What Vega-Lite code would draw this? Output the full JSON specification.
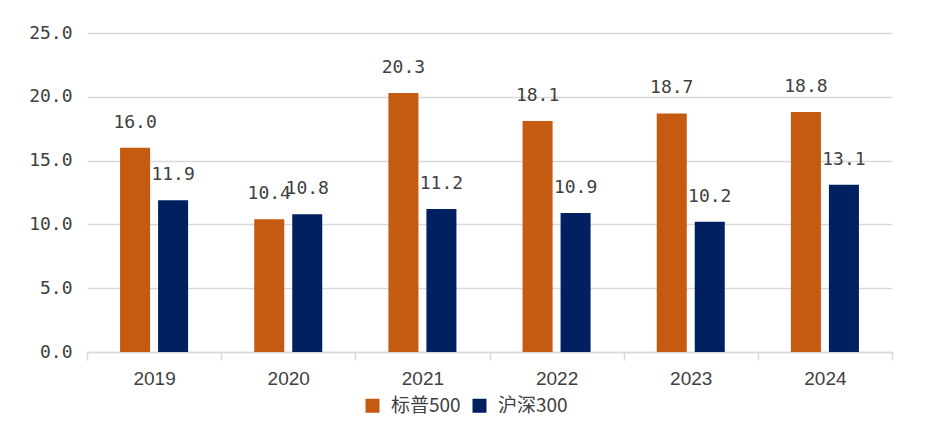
{
  "$schema": "https://vega.github.io/schema/vega-lite/v6.json",
  "autosize": "none",
  "width": 805,
  "height": 319,
  "padding": {"left": 87, "top": 33, "right": 39, "bottom": 82},
  "background": "white",
  "config": {
    "view": {"stroke": null},
    "font": "Liberation Sans"
  },
  "data": {
    "values": [
      {"year": "2019", "series": "标普500", "value": 16.0},
      {"year": "2019", "series": "沪深300", "value": 11.9},
      {"year": "2020", "series": "标普500", "value": 10.4},
      {"year": "2020", "series": "沪深300", "value": 10.8},
      {"year": "2021", "series": "标普500", "value": 20.3},
      {"year": "2021", "series": "沪深300", "value": 11.2},
      {"year": "2022", "series": "标普500", "value": 18.1},
      {"year": "2022", "series": "沪深300", "value": 10.9},
      {"year": "2023", "series": "标普500", "value": 18.7},
      {"year": "2023", "series": "沪深300", "value": 10.2},
      {"year": "2024", "series": "标普500", "value": 18.8},
      {"year": "2024", "series": "沪深300", "value": 13.1}
    ]
  },
  "encoding": {
    "x": {
      "field": "year",
      "type": "nominal",
      "scale": {"paddingInner": 0, "paddingOuter": 0},
      "axis": {
        "title": null,
        "labelAngle": 0,
        "labelFont": "Liberation Sans",
        "labelFontSize": 19,
        "labelColor": "#404040",
        "labelPadding": 9,
        "domainColor": "#D9D9D9",
        "domainWidth": 1.5,
        "tickColor": "#D9D9D9",
        "tickWidth": 1.5,
        "tickSize": 8,
        "tickBand": "extent"
      }
    },
    "xOffset": {
      "field": "series",
      "type": "nominal",
      "sort": ["标普500", "沪深300"],
      "scale": {"paddingInner": 0.21, "paddingOuter": 0.87}
    },
    "y": {
      "field": "value",
      "type": "quantitative",
      "scale": {"domain": [0, 25], "nice": false},
      "axis": {
        "title": null,
        "values": [0, 5, 10, 15, 20, 25],
        "format": ".1f",
        "labelFont": "DejaVu Sans Mono",
        "labelFontSize": 18,
        "labelColor": "#404040",
        "labelPadding": 15,
        "ticks": false,
        "domain": false,
        "gridColor": "#D9D9D9",
        "gridWidth": 1.5
      }
    }
  },
  "layer": [
    {
      "mark": {"type": "bar"},
      "encoding": {
        "color": {
          "field": "series",
          "type": "nominal",
          "sort": ["标普500", "沪深300"],
          "scale": {"domain": ["标普500", "沪深300"], "range": ["#C55A11", "#002060"]},
          "legend": {
            "title": null,
            "orient": "none",
            "direction": "horizontal",
            "legendX": 276,
            "legendY": 363,
            "padding": 0,
            "symbolType": "square",
            "symbolSize": 196,
            "symbolStrokeWidth": 0,
            "labelFont": "Noto Sans CJK SC",
            "labelFontSize": 19,
            "labelColor": "#404040",
            "labelOffset": 9,
            "columnPadding": 9
          }
        }
      }
    },
    {
      "mark": {
        "type": "text",
        "baseline": "alphabetic",
        "dy": -20,
        "font": "DejaVu Sans Mono",
        "fontSize": 18,
        "color": "#404040"
      },
      "encoding": {
        "text": {"field": "value", "type": "quantitative", "format": ".1f"}
      }
    }
  ]
}
